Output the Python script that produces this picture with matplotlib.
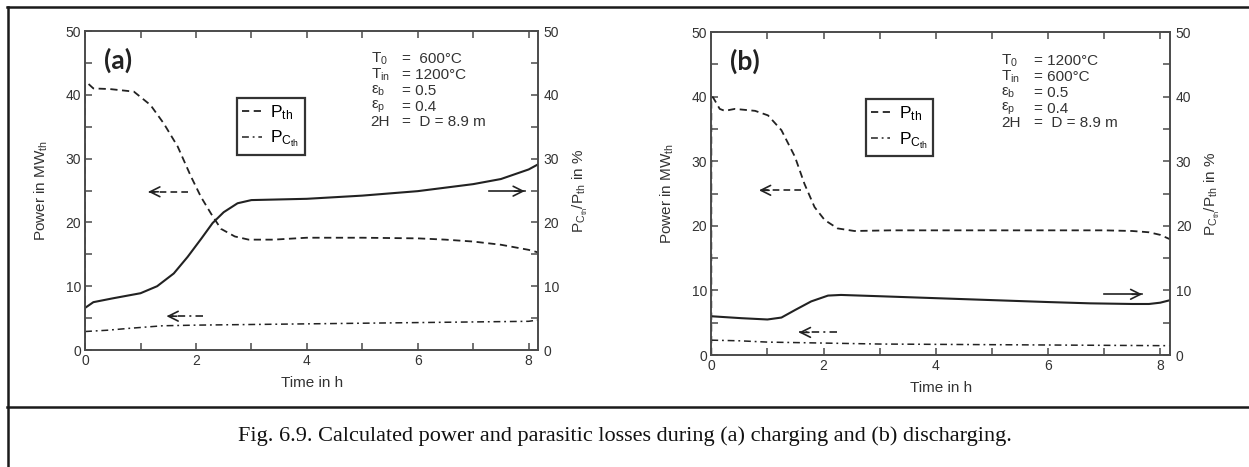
import matplotlib
matplotlib.use('Agg')
import matplotlib.pyplot as plt
from matplotlib.lines import Line2D
from matplotlib.ticker import MultipleLocator

plt.rcParams['font.family'] = ['Liberation Sans', 'DejaVu Sans']
plt.rcParams['mathtext.fontset'] = 'custom'
plt.rcParams['mathtext.rm'] = 'Liberation Sans'
plt.rcParams['mathtext.it'] = 'Liberation Sans'
plt.rcParams['mathtext.bf'] = 'Liberation Sans:bold'

# ---- data (time in h, values in MW_th or %) ----
# (a) charging
ta_th = [0, 0, 0.05, 0.15, 0.45, 0.88, 1.18, 1.42, 1.67, 1.91, 2.09, 2.27, 2.45, 2.7, 2.95, 3.4, 4, 5, 6, 6.5, 7, 7.5, 8, 8.17]
pa_th = [0, 41.7, 41.8, 41.0, 40.9, 40.5, 38.4, 35.5, 31.9, 27.2, 24.0, 21.4, 19.0, 17.8, 17.3, 17.3, 17.6, 17.6, 17.5, 17.3, 17.0, 16.5, 15.7, 15.3]
ta_ratio = [0, 0.15, 0.5, 1.0, 1.3, 1.6, 1.85, 2.1, 2.3, 2.5, 2.75, 3.0, 3.5, 4, 5, 6, 7, 7.5, 8, 8.17]
ra_ratio = [6.6, 7.5, 8.1, 8.9, 10.0, 12.0, 14.6, 17.5, 19.9, 21.6, 23.0, 23.5, 23.6, 23.7, 24.2, 24.9, 26.0, 26.8, 28.3, 29.1]
ta_c = [0, 0.4, 0.8, 1.4, 2, 3, 4, 5, 6, 7, 8, 8.17]
pa_c = [2.9, 3.1, 3.4, 3.8, 3.9, 4.0, 4.1, 4.2, 4.3, 4.4, 4.5, 4.7]

# (b) discharging
tb_th = [0, 0, 0.03, 0.15, 0.24, 0.42, 0.78, 1.01, 1.25, 1.49, 1.66, 1.84, 2.02, 2.25, 2.55, 3.2, 4, 5, 6, 7, 7.5, 7.8, 8.0, 8.18]
pb_th = [0, 39.9, 39.9, 38.1, 37.8, 38.1, 37.8, 37.1, 34.8, 30.7, 26.5, 22.9, 20.9, 19.6, 19.2, 19.3, 19.3, 19.3, 19.3, 19.3, 19.2, 19.0, 18.6, 17.9]
tb_ratio = [0, 0.54, 1.0, 1.25, 1.5, 1.78, 2.08, 2.31, 3.0, 4, 5, 6, 6.75, 7.5, 7.8, 8.0, 8.18]
rb_ratio = [6.0, 5.7, 5.5, 5.8, 7.0, 8.3, 9.2, 9.3, 9.1, 8.8, 8.5, 8.2, 8.0, 7.9, 7.9, 8.1, 8.5]
tb_c = [0, 0.5, 1, 2, 3, 4, 5, 6, 7, 8, 8.18]
pb_c = [2.3, 2.2, 2.0, 1.85, 1.7, 1.65, 1.6, 1.55, 1.5, 1.45, 1.45]

params_a = [r'$T_0$', r'$T_{in}$', r'ε$_b$', r'ε$_p$', '2H']
values_a = ['=  600°C', '= 1200°C', '= 0.5', '= 0.4', '=  D = 8.9 m']
params_b = [r'$T_0$', r'$T_{in}$', r'ε$_b$', r'ε$_p$', '2H']
values_b = ['= 1200°C', '= 600°C', '= 0.5', '= 0.4', '=  D = 8.9 m']

caption = 'Fig. 6.9. Calculated power and parasitic losses during (a) charging and (b) discharging.'

INK = '#222222'
GREY = '#4a4a4a'
DASH = (0, (4, 2.5))
DASHDOT = (0, (4.5, 2.5, 1.2, 2.5))


def arrow(ax, x0, x1, y, ls):
    # shaft in the curve's line style, head drawn solid
    ax.plot([x0, x1], [y, y], color=INK, lw=1.2, ls=ls)
    d = 0.18 if x1 < x0 else -0.18
    ax.annotate('', xy=(x1, y), xytext=(x1 + d, y),
                arrowprops=dict(arrowstyle='->,head_length=0.7,head_width=0.35',
                                color=INK, lw=1.2, shrinkA=0, shrinkB=0))


def panel(rect, xmax, t_th, p_th, t_r, r, t_c, p_c, tag, params, values,
          text_x, eq_x, text_y, leg_xy, arrows):
    ax = fig.add_axes(rect)
    ax.plot(t_th, p_th, color=INK, lw=1.3, ls=DASH)
    ax.plot(t_c, p_c, color=INK, lw=1.1, ls=DASHDOT)
    ax2 = ax.twinx()
    ax2.plot(t_r, r, color=INK, lw=1.5)

    for a in (ax, ax2):
        a.set_xlim(0, xmax)
        a.set_ylim(0, 50)
        a.yaxis.set_major_locator(MultipleLocator(10))
        a.yaxis.set_minor_locator(MultipleLocator(5))
        for s in a.spines.values():
            s.set_color(GREY)
            s.set_linewidth(1.2)
    ax.xaxis.set_major_locator(MultipleLocator(2))
    ax.xaxis.set_minor_locator(MultipleLocator(1))
    ax.tick_params(which='both', direction='in', length=5, width=1.1, color=GREY,
                   top=True, labelsize=10, labelcolor='#333333', pad=3)
    ax2.tick_params(which='both', direction='in', length=5, width=1.1, color=GREY,
                    labelsize=10, labelcolor='#333333', pad=4)

    ax.set_xlabel('Time in h', fontsize=11, color='#333333')
    ax.xaxis.set_label_coords(0.5, -0.08)
    ax.set_ylabel(r'Power in MW$_{th}$', fontsize=11, color='#333333')
    ax.yaxis.set_label_coords(-0.078, 0.5)
    ax2.set_ylabel(r'P$_{C_{th}}$/P$_{th}$ in %', fontsize=11, color='#333333')
    ax2.yaxis.set_label_coords(1.072, 0.5)

    ax.text(0.34, 45.4, tag, fontsize=19, fontweight='bold', family='Lato',
            color='#222222', va='center', ha='left')

    for k, (p, v) in enumerate(zip(params, values)):
        ax.text(text_x, text_y[k], p, fontsize=11, color='#333333', va='center')
        ax.text(eq_x, text_y[k], v, fontsize=11, color='#333333', va='center')

    handles = [Line2D([], [], color=INK, lw=1.3, ls=DASH),
               Line2D([], [], color=INK, lw=1.1, ls=DASHDOT)]
    leg = ax.legend(handles, [r'P$_{th}$', r'P$_{C_{th}}$'], loc='upper left',
                    bbox_to_anchor=leg_xy, borderaxespad=0, fontsize=12.5,
                    handlelength=1.1, handletextpad=0.5, borderpad=0.3,
                    labelspacing=0.4, fancybox=False, framealpha=1)
    leg.get_frame().set_edgecolor('#333333')
    leg.get_frame().set_linewidth(1.6)

    for x0, x1, y, ls in arrows:
        arrow(ax, x0, x1, y, ls)
    return ax


fig = plt.figure(figsize=(12.49, 4.67), dpi=100)

panel([0.0681, 0.2505, 0.3627, 0.6831], 8.17, ta_th, pa_th, ta_ratio, ra_ratio, ta_c, pa_c,
      '(a)', params_a, values_a, 5.15, 5.72, [45.6, 43.1, 40.6, 38.1, 35.7],
      (0.336, 0.79),
      [(1.85, 1.14, 24.8, DASH), (2.13, 1.47, 5.3, DASHDOT), (7.29, 7.93, 24.9, '-')])

panel([0.5695, 0.2398, 0.3675, 0.6916], 8.18, tb_th, pb_th, tb_ratio, rb_ratio, tb_c, pb_c,
      '(b)', params_b, values_b, 5.16, 5.75, [45.5, 43.0, 40.6, 38.1, 35.9],
      (0.336, 0.792),
      [(1.6, 0.85, 25.5, DASH), (2.24, 1.56, 3.5, DASHDOT), (7.0, 7.68, 9.4, '-')])

# frame lines around the figure and the caption separator
fig.add_artist(Line2D([0.0056, 1.0], [0.985, 0.985], color='#1a1a1a', lw=1.8))
fig.add_artist(Line2D([0.0064, 0.0064], [0.0, 0.985], color='#1a1a1a', lw=1.8))
fig.add_artist(Line2D([0.0056, 1.0], [0.1285, 0.1285], color='#1a1a1a', lw=1.8))

fig.text(0.5, 0.066, caption, family=['Liberation Serif', 'DejaVu Serif'],
         fontsize=16, ha='center', va='center', color='#111111')

fig.savefig('out.png', dpi=100)
